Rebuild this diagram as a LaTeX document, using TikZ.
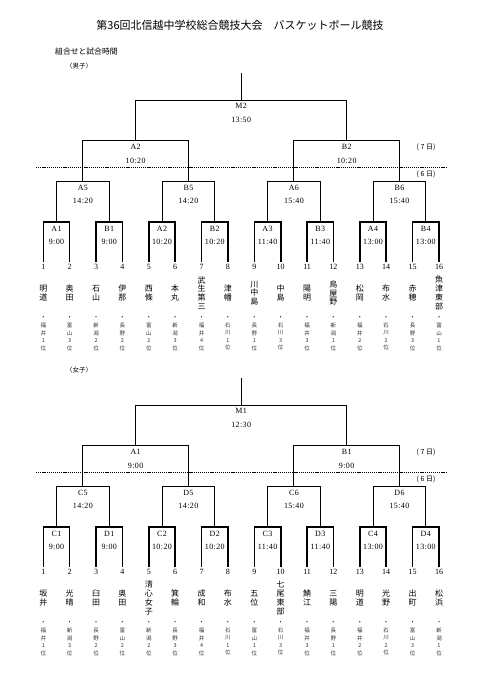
\documentclass[tikz,border=0pt]{standalone}
\usepackage{fontspec}
\setmainfont{Liberation Serif}
\newfontfamily\jp{Noto Sans CJK JP}
\newfontfamily\lat[LetterSpace=5]{Liberation Serif}

% stack the characters of #2 one under the other, #1 apart
\def\tatestep#1{\ifx\relax#1\else\hbox to 1em{\hss#1\hss}\expandafter\tatestep\fi}
\newcommand\tate[2]{\vbox{\baselineskip=#1\lineskiplimit=-\maxdimen\expandafter\tatestep#2\relax}}

\begin{document}
\begin{tikzpicture}[x=1pt, y=-1pt,
  wire/.style={line width=0.9pt},
  leafwire/.style={line width=1.6pt},
  daysplit/.style={line width=0.9pt, dash pattern=on 1.2pt off 0.9pt},
  game/.style={inner sep=0pt, font=\lat\fontsize{8}{9}\selectfont},
  seed/.style={inner sep=0pt, font=\fontsize{8}{9}\selectfont},
  team/.style={inner sep=0pt, font=\jp\fontsize{8}{9}\selectfont},
  pref/.style={inner sep=0pt, anchor=north, text=black!80, font=\jp\fontsize{5.5}{7}\selectfont},
  day/.style={inner sep=0pt, font=\jp\fontsize{7}{8}\selectfont}]

\useasboundingbox (0,0) rectangle (481,680);

% Heading
\node[font=\jp\fontsize{11}{13}\selectfont] (title) at (240,25)
    {第36回北信越中学校総合競技大会　バスケットボール競技};
\node[anchor=west, inner sep=0pt, font=\jp\fontsize{7.8}{9}\selectfont] (sub) at (55,52) {組合せと試合時間};
\node[anchor=west, inner sep=0pt, font=\jp\fontsize{6.5}{8}\selectfont] (boys) at (66,66) {〈男子〉};
\node[anchor=west, inner sep=0pt, font=\jp\fontsize{6.5}{8}\selectfont] (girls) at (66,370) {〈女子〉};

% Bracket lines: boys on top, girls 305 lower
\foreach \dy in {0,305}
{
  \begin{scope}[yshift=-\dy pt]
    % first round
    \foreach \k in {1,...,8}
    {
      \pgfmathsetmacro\xl{43.3+(2*\k-2)*26.38}
      \pgfmathsetmacro\xr{\xl+26.38}
      \draw[leafwire] (\xl,262) -- (\xl,222) -- (\xr,222) -- (\xr,262);
    }
    % second round
    \foreach \k in {1,...,4}
    {
      \pgfmathsetmacro\xl{43.3+(4*\k-3.5)*26.38}
      \pgfmathsetmacro\xr{\xl+2*26.38}
      \draw[wire] (\xl,222) -- (\xl,181) -- (\xr,181) -- (\xr,222);
    }
    % semifinals
    \foreach \k in {1,2}
    {
      \pgfmathsetmacro\xl{43.3+(8*\k-6.5)*26.38}
      \pgfmathsetmacro\xr{\xl+4*26.38}
      \draw[wire] (\xl,181) -- (\xl,140) -- (\xr,140) -- (\xr,181);
    }
    % final
    \draw[wire] (135.5,140) -- (135.5,100) -- (346.8,100) -- (346.8,140);
    \draw[wire] (241.2,100) -- (241.2,73);

    % day split
    \draw[daysplit] (36,167) -- (446,167);
    \node[day] (d7\dy) at (426,147) {( 7 日)};
    \node[day] (d6\dy) at (426,174) {( 6 日)};
  \end{scope}
}

% Boys: games
\node[game] (bm) at (241.2,106) {M2};
\node[game] (bmt) at (241.2,120) {13:50};
\foreach \gm/\tm [count=\k] in {A2/10:20,B2/10:20}
{
  \pgfmathsetmacro\xc{43.3+(8*\k-4.5)*26.38}
  \node[game] (bs\k) at (\xc,147) {\gm};
  \node[game] (bst\k) at (\xc,161) {\tm};
}
\foreach \gm/\tm [count=\k] in {A5/14:20,B5/14:20,A6/15:40,B6/15:40}
{
  \pgfmathsetmacro\xc{43.3+(4*\k-2.5)*26.38}
  \node[game] (bq\k) at (\xc,188) {\gm};
  \node[game] (bqt\k) at (\xc,201) {\tm};
}
\foreach \gm/\tm [count=\k] in {A1/9:00,B1/9:00,A2/10:20,B2/10:20,A3/11:40,B3/11:40,A4/13:00,B4/13:00}
{
  \pgfmathsetmacro\xc{43.3+(2*\k-1.5)*26.38}
  \node[game] (br\k) at (\xc,229) {\gm};
  \node[game] (brt\k) at (\xc,242) {\tm};
}

% Boys: teams
\foreach \n/\p [count=\i] in {明道/福井1位,奥田/富山3位,石山/新潟2位,伊那/長野2位,
  西條/富山2位,本丸/新潟3位,武生第三/福井4位,津幡/石川1位,川中島/長野1位,中島/石川3位,
  陽明/福井3位,鳥屋野/新潟1位,松岡/福井2位,布水/石川2位,赤穂/長野3位,魚津東部/富山1位}
{
  \pgfmathsetmacro\xc{43.3+(\i-1)*26.38}
  \node[seed] (bno\i) at (\xc,267) {\i};
  \node[team] (bt\i) at (\xc,293) {\tate{8.8pt}{\n}};
  \node[team, font=\jp\fontsize{6}{7}\selectfont] (bd\i) at (\xc,318) {・};
  \node[pref] (bp\i) at (\xc,323) {\tate{7.5pt}{\p}};
}

\begin{scope}[yshift=-305pt]
% Girls: games
\node[game] (gm) at (241.2,106) {M1};
\node[game] (gmt) at (241.2,120) {12:30};
\foreach \gm/\tm [count=\k] in {A1/9:00,B1/9:00}
{
  \pgfmathsetmacro\xc{43.3+(8*\k-4.5)*26.38}
  \node[game] (gs\k) at (\xc,147) {\gm};
  \node[game] (gst\k) at (\xc,161) {\tm};
}
\foreach \gm/\tm [count=\k] in {C5/14:20,D5/14:20,C6/15:40,D6/15:40}
{
  \pgfmathsetmacro\xc{43.3+(4*\k-2.5)*26.38}
  \node[game] (gq\k) at (\xc,188) {\gm};
  \node[game] (gqt\k) at (\xc,201) {\tm};
}
\foreach \gm/\tm [count=\k] in {C1/9:00,D1/9:00,C2/10:20,D2/10:20,C3/11:40,D3/11:40,C4/13:00,D4/13:00}
{
  \pgfmathsetmacro\xc{43.3+(2*\k-1.5)*26.38}
  \node[game] (gr\k) at (\xc,229) {\gm};
  \node[game] (grt\k) at (\xc,242) {\tm};
}

% Girls: teams
\foreach \n/\p [count=\i] in {坂井/福井1位,光晴/新潟3位,臼田/長野2位,奥田/富山2位,
  清心女子/新潟2位,箕輪/長野3位,成和/福井4位,布水/石川1位,五位/富山1位,七尾東部/石川3位,
  鯖江/福井3位,三陽/長野1位,明道/福井2位,光野/石川2位,出町/富山3位,松浜/新潟1位}
{
  \pgfmathsetmacro\xc{43.3+(\i-1)*26.38}
  \node[seed] (gno\i) at (\xc,267) {\i};
  \node[team] (gt\i) at (\xc,293) {\tate{8.8pt}{\n}};
  \node[team, font=\jp\fontsize{6}{7}\selectfont] (gd\i) at (\xc,318) {・};
  \node[pref] (gp\i) at (\xc,323) {\tate{7.5pt}{\p}};
}
\end{scope}

\end{tikzpicture}
\end{document}
